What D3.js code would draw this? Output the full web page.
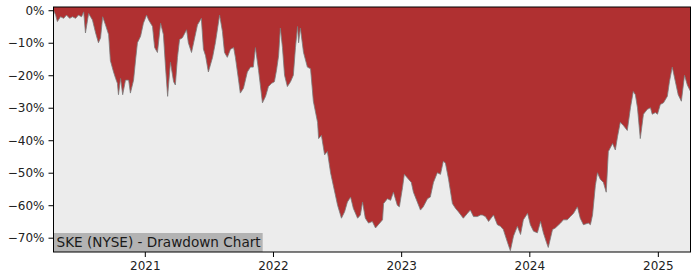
<!DOCTYPE html>
<html>
<head>
<meta charset="utf-8">
<script src="https://cdn.jsdelivr.net/npm/d3@7"></script>
<style>
    body { margin: 0; background: #ffffff; }
    .axis text { font-family: "DejaVu Sans", sans-serif; font-size: 12px; fill: #222; }
    .axis path, .axis line { stroke: #000; }
    .chartLabel { font-family: "DejaVu Sans", sans-serif; font-size: 13.6px; fill: #1a1a1a; }
</style>
</head>
<body>
<script>
(function(){

//drawdown series (date, percent below previous peak)
var dates = [
    "2020-04-16","2020-04-22","2020-04-27","2020-05-06","2020-05-15","2020-05-23","2020-06-01","2020-06-09",
    "2020-06-18","2020-06-26","2020-07-05","2020-07-11","2020-07-16","2020-07-25","2020-08-05","2020-08-14",
    "2020-08-22","2020-08-28","2020-09-03","2020-09-11","2020-09-20","2020-09-25","2020-10-04","2020-10-10",
    "2020-10-15","2020-10-18","2020-10-24","2020-10-30","2020-11-07","2020-11-16","2020-11-21","2020-11-30",
    "2020-12-06","2020-12-11","2020-12-20","2020-12-28","2021-01-06","2021-01-12","2021-01-23","2021-01-29",
    "2021-02-06","2021-02-15","2021-02-23","2021-03-01","2021-03-07","2021-03-15","2021-03-24","2021-03-29",
    "2021-04-04","2021-04-10","2021-04-18","2021-04-30","2021-05-05","2021-05-14","2021-05-20","2021-05-31",
    "2021-06-11","2021-06-17","2021-06-23","2021-07-01","2021-07-13","2021-07-21","2021-08-02","2021-08-10",
    "2021-08-16","2021-08-24","2021-09-02","2021-09-11","2021-09-16","2021-09-25","2021-09-30","2021-10-09",
    "2021-10-20","2021-10-29","2021-11-06","2021-11-12","2021-11-21","2021-12-02","2021-12-11","2021-12-19",
    "2021-12-28","2022-01-05","2022-01-11","2022-01-17","2022-01-22","2022-01-28","2022-02-03","2022-02-11",
    "2022-02-20","2022-02-28","2022-03-06","2022-03-12","2022-03-15","2022-03-20","2022-03-29","2022-04-09",
    "2022-04-18","2022-04-26","2022-05-08","2022-05-11","2022-05-19","2022-05-28","2022-06-05","2022-06-14",
    "2022-06-22","2022-07-04","2022-07-15","2022-07-24","2022-08-01","2022-08-10","2022-08-18","2022-08-30",
    "2022-09-07","2022-09-13","2022-09-21","2022-09-30","2022-10-11","2022-10-20","2022-10-28","2022-11-09",
    "2022-11-12","2022-11-23","2022-12-02","2022-12-10","2022-12-21","2022-12-27","2023-01-05","2023-01-10",
    "2023-01-22","2023-01-30","2023-02-05","2023-02-16","2023-02-25","2023-03-05","2023-03-17","2023-03-25",
    "2023-04-03","2023-04-14","2023-04-23","2023-05-01","2023-05-07","2023-05-16","2023-05-27","2023-06-05",
    "2023-06-13","2023-06-27","2023-07-09","2023-07-17","2023-07-26","2023-08-06","2023-08-15","2023-08-20",
    "2023-08-29","2023-09-07","2023-09-21","2023-10-02","2023-10-11","2023-10-19","2023-10-31","2023-11-08",
    "2023-11-17","2023-11-28","2023-12-07","2023-12-15","2023-12-27","2024-01-04","2024-01-13","2024-01-24",
    "2024-02-02","2024-02-10","2024-02-19","2024-02-24","2024-03-07","2024-03-15","2024-03-30","2024-04-07",
    "2024-04-18","2024-04-27","2024-05-06","2024-05-17","2024-05-25","2024-06-03","2024-06-17","2024-06-23",
    "2024-06-29","2024-07-07","2024-07-13","2024-07-21","2024-07-30","2024-08-07","2024-08-13","2024-08-25",
    "2024-09-02","2024-09-08","2024-09-16","2024-09-25","2024-10-06","2024-10-15","2024-10-23","2024-10-29",
    "2024-11-04","2024-11-12","2024-11-21","2024-12-02","2024-12-11","2024-12-16","2024-12-25","2024-12-31",
    "2025-01-08","2025-01-17","2025-01-28","2025-02-03","2025-02-11","2025-02-20","2025-02-28","2025-03-09",
    "2025-03-18","2025-03-26","2025-04-04"
];

var drawdown = [
    0, -1.5, -3.5, -2, -2.5, -1.5, -2.5, -2,
    -2.5, -1.5, -2, -0.5, -7, -1, -3, -7,
    -10, -8.5, -2, -4.5, -7.5, -15.5, -19, -21,
    -22.5, -26, -21, -26, -21.5, -21.5, -25.5, -21.5,
    -15, -10, -8, -4, -1.5, -3, -5, -11.5,
    -13, -4, -7.5, -17.5, -26.5, -16, -22, -23,
    -14.5, -9, -8.5, -6, -10, -13, -10, -4.5,
    -2.5, -12, -14, -19, -14.5, -10, -1.5, -6.5,
    -13, -14.5, -12, -11.5, -14.5, -21.5, -25.5, -24,
    -19, -17.5, -17.5, -11.5, -18.5, -28.5, -26.5, -23.5,
    -22.5, -22, -18.5, -14, -5.5, -11.5, -20, -23.5,
    -22, -20, -11.5, -5, -10, -5.5, -13, -17.5,
    -18, -28, -34.5, -39.5, -38.5, -44.5, -43.5, -50,
    -54, -60, -64, -62, -59, -57.5, -61, -64,
    -63, -59, -64, -65.5, -65, -67, -66, -64.5,
    -59.5, -58, -58.5, -56, -60, -60.5, -54.5, -50.5,
    -52, -53, -56, -59, -61.5, -60.5, -58, -57.5,
    -53, -50, -50.5, -46.5, -47, -52, -59.5, -61,
    -62, -64, -62.5, -61.5, -63.5, -63.5, -63, -63,
    -63.5, -65, -63, -66, -66.5, -67.5, -71.5, -74,
    -69.5, -66.5, -69, -64.5, -62.5, -66, -68, -68.5,
    -65, -68.5, -71.5, -73, -67.5, -67, -65.5, -64.5,
    -64.5, -63.5, -62.5, -60.5, -64, -66, -65.5, -66,
    -63, -54, -50, -52, -53, -56, -43.5, -41,
    -43, -39, -34.5, -35.5, -37, -30, -25, -26,
    -30, -39.5, -32, -30.5, -30, -32, -31.5, -32,
    -29, -28.5, -26.5, -22, -17.5, -22, -26, -28,
    -20, -23, -25
];

//axis ticks
var yTicks = [0, -10, -20, -30, -40, -50, -60, -70];
var yLimits = [-74.4, 1];
var chartLabel = "SKE (NYSE) - Drawdown Chart";

window.onload = setChart();

function setChart(){
    //frame dimensions
    var width = 700,
        height = 280,
        margin = {top: 7, right: 9.5, bottom: 28, left: 53.5},
        innerWidth = width - margin.left - margin.right,
        innerHeight = height - margin.top - margin.bottom;

    var parseDate = d3.timeParse("%Y-%m-%d");

    //join dates and values into records
    var data = dates.map(function(d, i){
        return {date: parseDate(d), value: drawdown[i]};
    });

    var svg = d3.select("body")
        .append("svg")
        .attr("width", width)
        .attr("height", height);

    var chart = svg.append("g")
        .attr("transform", "translate(" + margin.left + "," + margin.top + ")");

    var x = d3.scaleTime()
        .domain(d3.extent(data, function(d){ return d.date; }))
        .range([0, innerWidth]);

    var y = d3.scaleLinear()
        .domain(yLimits)
        .range([innerHeight, 0]);

    //plot background
    chart.append("rect")
        .attr("width", innerWidth)
        .attr("height", innerHeight)
        .attr("fill", "#ececec");

    //red area between zero and the drawdown curve
    var area = d3.area()
        .x(function(d){ return x(d.date); })
        .y0(y(0) - 3.3)
        .y1(function(d){ return y(d.value); });

    chart.append("path")
        .datum(data)
        .attr("d", area)
        .attr("fill", "#b03031");

    var line = d3.line()
        .x(function(d){ return x(d.date); })
        .y(function(d){ return y(d.value); });

    chart.append("path")
        .datum(data)
        .attr("d", line)
        .attr("fill", "none")
        .attr("stroke", "#7a7a7a")
        .attr("stroke-width", 1)
        .attr("stroke-opacity", 0.8);

    //label box in lower left corner
    var label = chart.append("g");
    var labelText = label.append("text")
        .attr("class", "chartLabel")
        .attr("x", 3)
        .attr("y", innerHeight - 5)
        .text(chartLabel);
    var bb = labelText.node().getBBox();
    label.insert("rect", "text")
        .attr("x", 0)
        .attr("y", innerHeight - 19)
        .attr("width", bb.width + 5)
        .attr("height", 19)
        .attr("fill", "#b3b3b3");

    //axes
    var yAxis = d3.axisLeft(y)
        .tickValues(yTicks)
        .tickSize(5)
        .tickPadding(4)
        .tickFormat(function(d){ return d3.format("d")(d) + "%"; });

    chart.append("g")
        .attr("class", "axis")
        .call(yAxis)
        .call(function(g){ g.select(".domain").remove(); });

    var xAxis = d3.axisBottom(x)
        .ticks(d3.timeYear.every(1))
        .tickSize(5)
        .tickPadding(4)
        .tickFormat(d3.timeFormat("%Y"));

    chart.append("g")
        .attr("class", "axis")
        .attr("transform", "translate(0," + innerHeight + ")")
        .call(xAxis)
        .call(function(g){ g.select(".domain").remove(); });

    //frame
    chart.append("rect")
        .attr("width", innerWidth)
        .attr("height", innerHeight)
        .attr("fill", "none")
        .attr("stroke", "#000")
        .attr("stroke-width", 1);
};

})();
</script>
</body>
</html>
